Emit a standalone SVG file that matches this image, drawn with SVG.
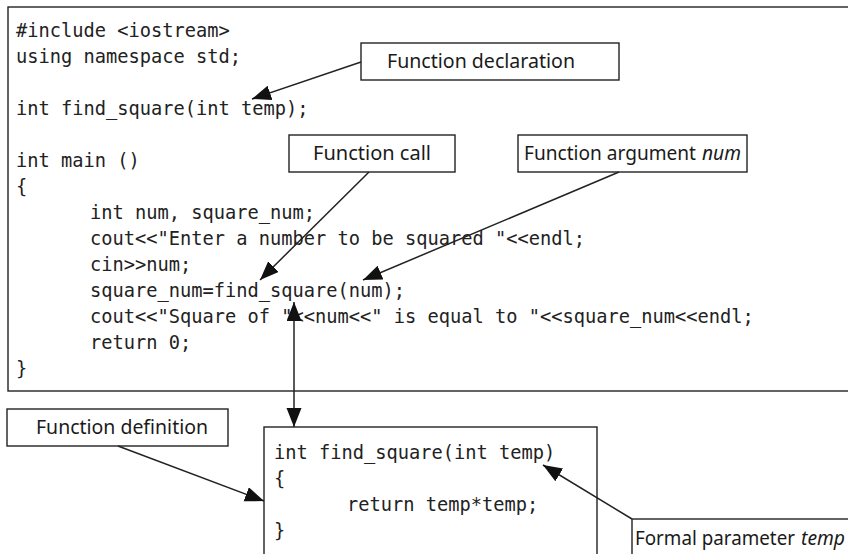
<svg xmlns="http://www.w3.org/2000/svg" width="848" height="554" viewBox="0 0 848 554">
<style>
.box{fill:#fff;stroke:#222;stroke-width:1.4}
.code{font-family:"DejaVu Sans Mono","Liberation Mono",monospace;font-size:18.7px;fill:#222;white-space:pre}
.lbl{font-family:"Noto Sans","Open Sans",sans-serif;font-size:19.5px;fill:#1a1a1a}
.it{font-style:italic}
.con{stroke:#222;stroke-width:1.5;fill:none}
</style>
<defs>
<marker id="ah" markerUnits="userSpaceOnUse" markerWidth="20" markerHeight="16" refX="19" refY="7.5" orient="auto-start-reverse">
<path d="M0,0 L19,7.5 L0,15 z" fill="#111"/>
</marker>
</defs>
<rect width="848" height="554" fill="#fff"/>
<g id="main-code">
<rect class="box" x="8" y="7" width="900" height="384"/>
<text class="code" x="16" y="37">#include &lt;iostream&gt;</text>
<text class="code" x="16" y="63">using namespace std;</text>
<text class="code" x="16" y="115">int find_square(int temp);</text>
<text class="code" x="16" y="167">int main ()</text>
<text class="code" x="16" y="193">{</text>
<text class="code" x="90" y="219">int num, square_num;</text>
<text class="code" x="90" y="245">cout&lt;&lt;"Enter a number to be squared "&lt;&lt;endl;</text>
<text class="code" x="90" y="271">cin&gt;&gt;num;</text>
<text class="code" x="90" y="297">square_num=find_square(num);</text>
<text class="code" x="90" y="323">cout&lt;&lt;"Square of "&lt;&lt;num&lt;&lt;" is equal to "&lt;&lt;square_num&lt;&lt;endl;</text>
<text class="code" x="90" y="349">return 0;</text>
<text class="code" x="16" y="375">}</text>
</g>
<g id="def-code">
<rect class="box" x="264" y="427" width="333" height="160"/>
<text class="code" x="274" y="459">int find_square(int temp)</text>
<text class="code" x="274" y="485">{</text>
<text class="code" x="347" y="511">return temp*temp;</text>
<text class="code" x="274" y="537">}</text>
</g>
<g id="lbl-decl">
<rect class="box" x="361" y="43" width="258" height="37"/>
<text class="lbl" x="387" y="68" textLength="188" lengthAdjust="spacingAndGlyphs">Function declaration</text>
</g>
<g id="lbl-call">
<rect class="box" x="289" y="135" width="166" height="37"/>
<text class="lbl" x="313" y="160" textLength="118" lengthAdjust="spacingAndGlyphs">Function call</text>
</g>
<g id="lbl-arg">
<rect class="box" x="518" y="135" width="229" height="37"/>
<text class="lbl" x="524" y="160" textLength="172" lengthAdjust="spacingAndGlyphs">Function argument</text>
<text class="lbl it" x="702" y="160" textLength="39" lengthAdjust="spacingAndGlyphs">num</text>
</g>
<g id="lbl-def">
<rect class="box" x="7" y="409" width="221" height="37"/>
<text class="lbl" x="36" y="434" textLength="172" lengthAdjust="spacingAndGlyphs">Function definition</text>
</g>
<g id="lbl-formal">
<rect class="box" x="632" y="519" width="260" height="60"/>
<text class="lbl" x="635" y="545" textLength="160" lengthAdjust="spacingAndGlyphs">Formal parameter</text>
<text class="lbl it" x="801" y="545" textLength="44" lengthAdjust="spacingAndGlyphs">temp</text>
</g>
<g id="connectors">
<line class="con" x1="361" y1="62" x2="252" y2="99" marker-end="url(#ah)"/>
<line class="con" x1="369" y1="172" x2="260" y2="280" marker-end="url(#ah)"/>
<line class="con" x1="619" y1="172" x2="363" y2="280" marker-end="url(#ah)"/>
<line class="con" x1="294" y1="302" x2="294" y2="427" marker-start="url(#ah)" marker-end="url(#ah)"/>
<line class="con" x1="118" y1="446" x2="264" y2="501" marker-end="url(#ah)"/>
<line class="con" x1="632" y1="519" x2="543" y2="465" marker-end="url(#ah)"/>
</g>
</svg>
